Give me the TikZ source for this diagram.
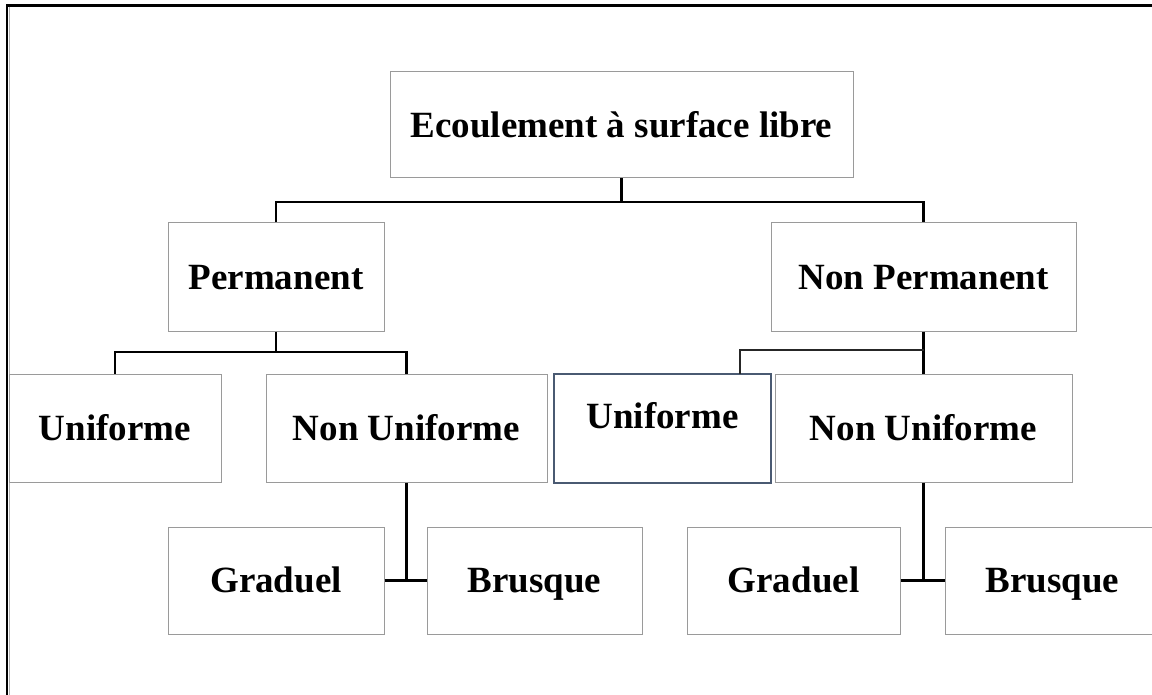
\documentclass[tikz,border=0pt]{standalone}
\usepackage{fontspec}
\setmainfont{Liberation Serif}
\definecolor{boxgray}{HTML}{9A9A9A}
\definecolor{slate}{HTML}{4A5A72}
\begin{document}
\begin{tikzpicture}[x=1pt,y=-1pt,
  box/.style={draw=boxgray, line width=1pt, fill=white, inner sep=0pt,
    font=\bfseries\fontsize{37}{44}\selectfont, text height=24.5pt, text depth=0pt},
  conn/.style={draw=black, line width=2.5pt},
  thinconn/.style={draw=black!85, line width=1.3pt},
  frame/.style={draw=black, line width=2.5pt}]
\clip (0,0) rectangle (1152,695);
\fill[white] (0,0) rectangle (1152,695);
\draw[frame] (7,5.5) rectangle (1180,720);
\draw[gray!60, line width=0.8pt] (8.9,7) -- (8.9,720);

% connector junctions
\coordinate (j1) at (621.5,202);
\coordinate (j2) at (276,352);
\coordinate (j3) at (923.5,350);
\coordinate (k3) at (740,374);
\coordinate (j4) at (406.5,580.5);
\coordinate (j5) at (923.5,580.5);

\node[box, minimum width=463pt, minimum height=106pt] (top) at (621.5,125) {Ecoulement à surface libre};
\node[box, minimum width=216pt, minimum height=108pt] (perm) at (276,277) {Permanent};
\node[box, minimum width=305pt, minimum height=108pt] (nperm) at (923.5,277) {Non Permanent};
\node[box, minimum width=212pt, minimum height=108pt] (uniL) at (115,428) {Uniforme};
\node[box, minimum width=281pt, minimum height=108pt] (nuniL) at (406.5,428) {Non Uniforme};
\node[box, draw=slate, line width=1.6pt, text depth=24.5pt, minimum width=217pt, minimum height=109pt] (uniR) at (662.5,428.5) {Uniforme};
\node[box, minimum width=297pt, minimum height=108pt] (nuniR) at (923.5,428) {Non Uniforme};
\node[box, minimum width=216pt, minimum height=107pt] (gradL) at (276,580.5) {Graduel};
\node[box, minimum width=215pt, minimum height=107pt] (brusL) at (534.5,580.5) {Brusque};
\node[box, minimum width=213pt, minimum height=107pt] (gradR) at (793.5,580.5) {Graduel};
\node[box, minimum width=215pt, minimum height=107pt] (brusR) at (1052.5,580.5) {Brusque};

\draw[conn] (top.south) -- (j1);
\draw[conn] (perm.north) |- (j1) -| (nperm.north);
\draw[conn] (perm.south) -- (j2);
\draw[conn] (uniL.north) |- (j2) -| (nuniL.north);
\draw[conn] (nperm.south) -- (nuniR.north);
\draw[thinconn] (j3) -| (k3);
\draw[conn] (nuniL.south) -- (j4);
\draw[conn] (gradL.east) -- (brusL.west);
\draw[conn] (nuniR.south) -- (j5);
\draw[conn] (gradR.east) -- (brusR.west);
\end{tikzpicture}
\end{document}
